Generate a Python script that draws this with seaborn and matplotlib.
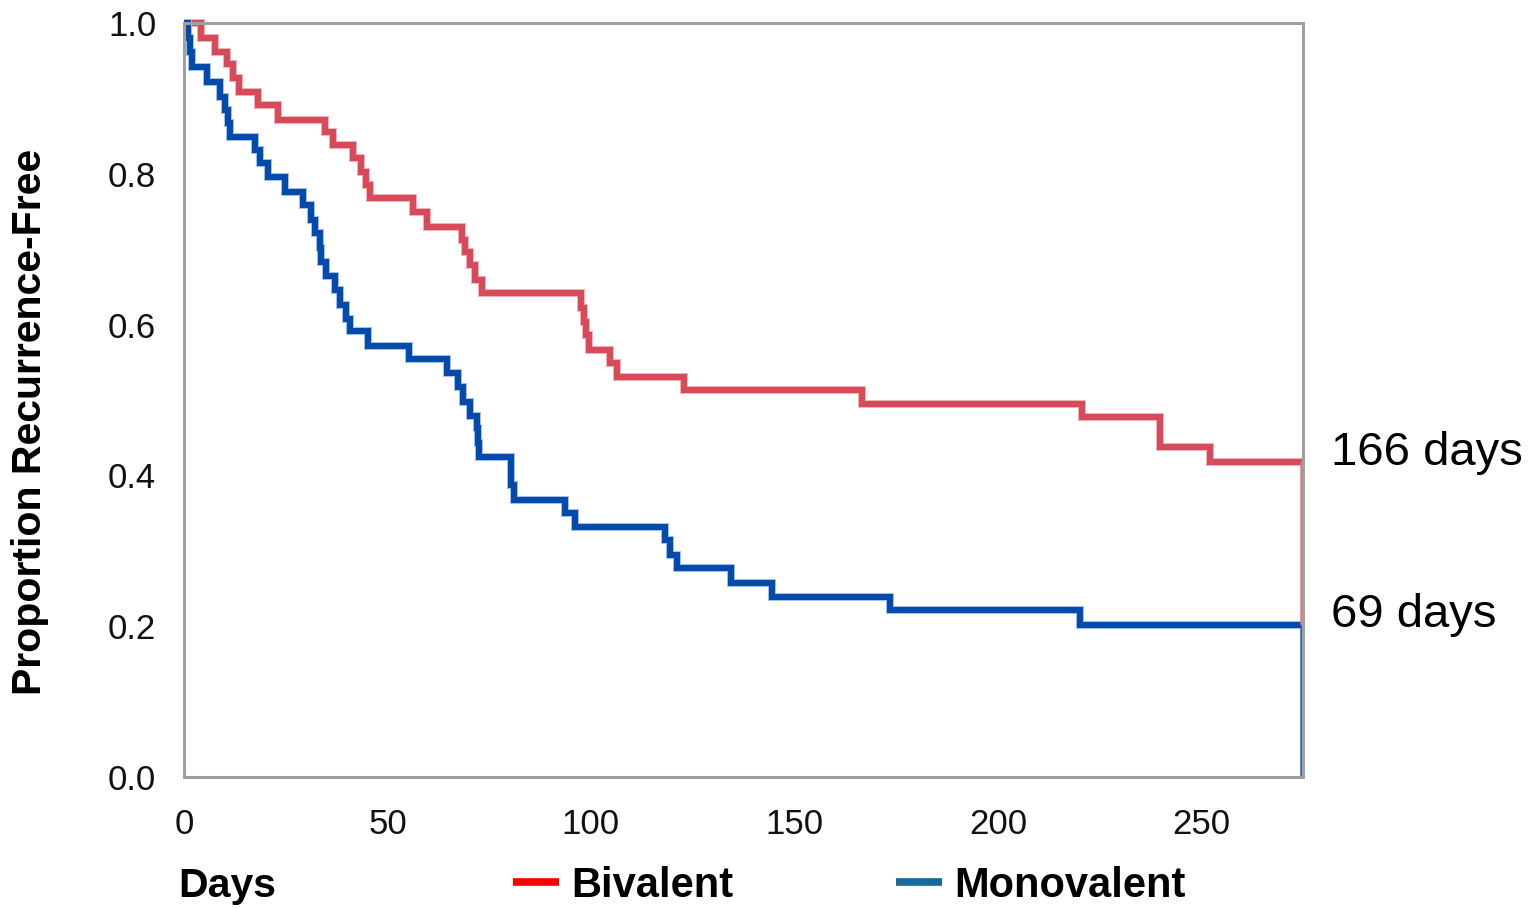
import matplotlib
matplotlib.use("Agg")
import matplotlib.pyplot as plt
import seaborn as sns
from matplotlib.lines import Line2D
from matplotlib.ticker import MultipleLocator, FormatStrFormatter

# Kaplan-Meier steps (days, proportion recurrence-free)
biv_days = [0, 4.2, 7.6, 10.5, 12, 13.5, 18.2, 23, 34.6, 36.5, 41.5, 43.5, 44.8,
            45.7, 56.3, 59.7, 68.3, 69, 70.3, 71.5, 73.2, 97.5, 98.3, 98.8, 99.5,
            104.7, 106.4, 123, 166.6, 220.8, 239.8, 252.2, 275]
biv_surv = [1.0, 0.980, 0.962, 0.945, 0.927, 0.909, 0.891, 0.871, 0.855, 0.838,
            0.821, 0.803, 0.785, 0.768, 0.749, 0.730, 0.712, 0.696, 0.679, 0.659,
            0.642, 0.622, 0.604, 0.586, 0.566, 0.549, 0.530, 0.513, 0.495, 0.477,
            0.438, 0.418, 0.418]

mono_days = [0, 1.0, 1.5, 2.0, 5.6, 8.8, 10.0, 10.8, 11.2, 17.4, 18.7, 20.6, 24.8,
             29.3, 31.3, 32.1, 33.4, 33.6, 35.0, 37.0, 38.3, 39.9, 40.7, 45.2, 55.3,
             64.6, 67.4, 68.6, 70.3, 72.0, 72.3, 72.5, 80.4, 81.2, 93.6, 96.1, 118.2,
             119.4, 121.1, 134.4, 144.5, 173.5, 220.1, 275]
mono_surv = [1.0, 0.980, 0.961, 0.942, 0.922, 0.902, 0.885, 0.867, 0.849, 0.832,
             0.814, 0.796, 0.776, 0.759, 0.739, 0.721, 0.702, 0.683, 0.664, 0.646,
             0.626, 0.608, 0.591, 0.572, 0.554, 0.536, 0.517, 0.497, 0.479, 0.463,
             0.443, 0.424, 0.387, 0.367, 0.350, 0.332, 0.314, 0.294, 0.277, 0.257,
             0.239, 0.221, 0.201, 0.201]

end_day = 275
medians = ["166 days", "69 days"]
median_y = [0.43, 0.215]

sns.set_theme(style="white")
plt.rcParams["font.family"] = ["Liberation Sans", "DejaVu Sans"]
plt.rcParams["text.color"] = "black"

grey = "#a0a0a0"
red, red_light = "#d64a5a", "#efb3ba"
blue, blue_light = "#034aad", "#a3bfe3"

fig = plt.figure(figsize=(15.4, 9.08), dpi=100)
ax = fig.add_axes([184 / 1540, 131 / 908, 1119 / 1540, 754 / 908])

# pale halo underneath, then the crisp line on top
for days, surv, light, dark in [(biv_days, biv_surv, red_light, red),
                                (mono_days, mono_surv, blue_light, blue)]:
    sns.lineplot(x=days, y=surv, drawstyle="steps-post", estimator=None, sort=False,
                 color=light, lw=5.8, ax=ax, solid_joinstyle="miter",
                 solid_capstyle="butt", clip_on=False)
    sns.lineplot(x=days, y=surv, drawstyle="steps-post", estimator=None, sort=False,
                 color=dark, lw=4.3, ax=ax, solid_joinstyle="miter",
                 solid_capstyle="butt", clip_on=False)

# closing verticals at the end of follow-up
ax.vlines(end_day - 0.6, mono_surv[-1], biv_surv[-1], color="#e07784", lw=1.8, clip_on=False)
ax.vlines(end_day - 0.6, 0, mono_surv[-1], color="#3a5fb0", lw=1.8, clip_on=False)

ax.set_xlim(0, end_day)
ax.set_ylim(0, 1.0)
ax.xaxis.set_major_locator(MultipleLocator(50))
ax.xaxis.set_minor_locator(MultipleLocator(25))
ax.yaxis.set_major_locator(MultipleLocator(0.2))
ax.yaxis.set_minor_locator(MultipleLocator(0.1))
ax.yaxis.set_major_formatter(FormatStrFormatter("%.1f"))

for s in ax.spines.values():
    s.set_color(grey)
    s.set_linewidth(2.2)
ax.tick_params(which="both", direction="out", color=grey, width=1.6)
ax.tick_params(which="major", length=13, labelsize=25, labelcolor="#111111")
ax.tick_params(which="minor", length=6.5)
ax.tick_params(axis="y", which="major", pad=7)
ax.tick_params(axis="x", which="major", pad=9)

ax.set_ylabel("Proportion Recurrence-Free", fontsize=29.5, fontweight="bold",
              va="center", color="black")
ax.yaxis.set_label_coords((30 - 184) / 1119, (777 - 422) / 754)
ax.set_xlabel("Days", fontsize=29.5, fontweight="bold", loc="left", va="center",
              color="black")
ax.xaxis.set_label_coords((178 - 184) / 1119, (777 - 886) / 754)

for label, yv in zip(medians, median_y):
    ax.text(282, yv, label, fontsize=34, va="center", ha="left", color="black",
            clip_on=False)

handles = [Line2D([0], [0], color="#ff0000", lw=5.5, solid_capstyle="butt"),
           Line2D([0], [0], color="#16699c", lw=5.5, solid_capstyle="butt")]
fig.legend(handles, ["Bivalent", "Monovalent"], loc="center left",
           bbox_to_anchor=(513 / 1540, 1 - 886 / 908), ncol=2, frameon=False,
           prop={"weight": "bold", "size": 30}, labelcolor="black",
           handlelength=1.1, handletextpad=0.3, columnspacing=3.9,
           borderpad=0, borderaxespad=0)

fig.savefig("out.png", dpi=100)
